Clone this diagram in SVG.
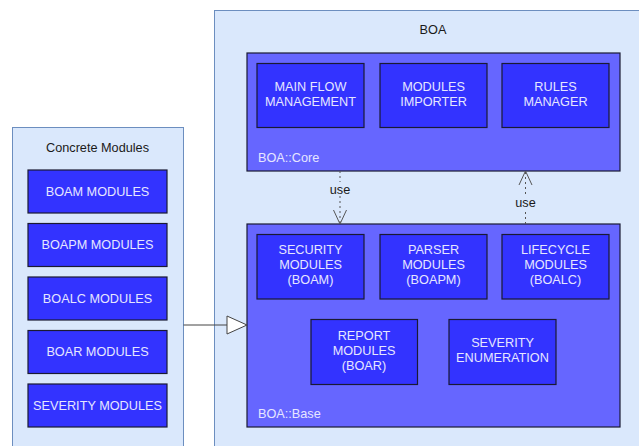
<svg xmlns="http://www.w3.org/2000/svg" width="639" height="446" viewBox="0 0 639 446">
<style>
.cont{fill:#dae8fc;stroke:#6c8ebf;stroke-width:1}
.pkg{fill:#6666ff;stroke:#1a1a33;stroke-width:1.2}
.box{fill:#3333ff;stroke:#1a1a33;stroke-width:1.2}
text{font-family:"Liberation Sans",Arial,sans-serif;font-size:12.7px;text-anchor:middle}
.w{fill:#e6e6ff}
.d{fill:#1a1a1a}
.lbl{text-anchor:start}
.dot{fill:none;stroke:#555;stroke-width:1;stroke-dasharray:2 3}
</style>
<defs>
<marker id="open" markerWidth="16" markerHeight="16" refX="15" refY="8" orient="auto" markerUnits="userSpaceOnUse">
<path d="M1,1.5 L15,8 L1,14.5" fill="none" stroke="#555" stroke-width="1"/>
</marker>
<marker id="tri" markerWidth="22" markerHeight="20" refX="21" refY="10" orient="auto" markerUnits="userSpaceOnUse">
<path d="M1,1 L21,10 L1,19 Z" fill="#fff" stroke="#444" stroke-width="1"/>
</marker>
</defs>
<rect width="639" height="446" fill="#ffffff"/>

<g id="concrete">
<rect class="cont" x="12.5" y="127.5" width="171" height="330"/>
<text class="d" x="97.5" y="152">Concrete Modules</text>
</g>
<g id="boam"><rect class="box" x="28" y="170" width="139" height="43"/><text class="w" x="97.5" y="195.5">BOAM MODULES</text></g>
<g id="boapm"><rect class="box" x="28" y="223.5" width="139" height="43"/><text class="w" x="97.5" y="249">BOAPM MODULES</text></g>
<g id="boalc"><rect class="box" x="28" y="277" width="139" height="43"/><text class="w" x="97.5" y="302.5">BOALC MODULES</text></g>
<g id="boar"><rect class="box" x="28" y="330.5" width="139" height="43"/><text class="w" x="97.5" y="356">BOAR MODULES</text></g>
<g id="severity-modules"><rect class="box" x="28" y="384" width="139" height="43"/><text class="w" x="97.5" y="409.5">SEVERITY MODULES</text></g>

<g id="boa">
<rect class="cont" x="214.5" y="10.5" width="440" height="450"/>
<text class="d" x="433" y="34">BOA</text>
</g>

<g id="core">
<rect class="pkg" x="247" y="53" width="373" height="118"/>
<text class="w lbl" x="258" y="162">BOA::Core</text>
</g>
<g id="main-flow"><rect class="box" x="257" y="63.5" width="107" height="64"/><text class="w" x="310.5" y="91">MAIN FLOW</text><text class="w" x="310.5" y="105.5">MANAGEMENT</text></g>
<g id="modules-importer"><rect class="box" x="380" y="63.5" width="107" height="64"/><text class="w" x="433.5" y="91">MODULES</text><text class="w" x="433.5" y="105.5">IMPORTER</text></g>
<g id="rules-manager"><rect class="box" x="502" y="63.5" width="107" height="64"/><text class="w" x="555.5" y="91">RULES</text><text class="w" x="555.5" y="105.5">MANAGER</text></g>

<g id="base">
<rect class="pkg" x="247" y="224" width="373" height="203"/>
<text class="w lbl" x="258" y="418">BOA::Base</text>
</g>
<g id="security"><rect class="box" x="257" y="234.5" width="107" height="64.5"/><text class="w" x="310.5" y="254">SECURITY</text><text class="w" x="310.5" y="269">MODULES</text><text class="w" x="310.5" y="284">(BOAM)</text></g>
<g id="parser"><rect class="box" x="380" y="234.5" width="107" height="64.5"/><text class="w" x="433.5" y="254">PARSER</text><text class="w" x="433.5" y="269">MODULES</text><text class="w" x="433.5" y="284">(BOAPM)</text></g>
<g id="lifecycle"><rect class="box" x="502" y="234.5" width="107" height="64.5"/><text class="w" x="555.5" y="254">LIFECYCLE</text><text class="w" x="555.5" y="269">MODULES</text><text class="w" x="555.5" y="284">(BOALC)</text></g>
<g id="report"><rect class="box" x="311" y="319.5" width="106.5" height="65"/><text class="w" x="364" y="339.5">REPORT</text><text class="w" x="364" y="354.5">MODULES</text><text class="w" x="364" y="369.5">(BOAR)</text></g>
<g id="severity-enum"><rect class="box" x="449" y="319.5" width="107" height="65"/><text class="w" x="502.5" y="347">SEVERITY</text><text class="w" x="502.5" y="361.5">ENUMERATION</text></g>

<g id="connectors">
<line x1="183.5" y1="325" x2="247" y2="325" stroke="#444" stroke-width="1" marker-end="url(#tri)"/>
<line class="dot" x1="340" y1="171" x2="340" y2="224" marker-end="url(#open)"/>
<rect x="328" y="182" width="24" height="14" fill="#dae8fc"/>
<text class="d" x="340" y="194">use</text>
<line class="dot" x1="525.5" y1="224" x2="525.5" y2="171" marker-end="url(#open)"/>
<rect x="513" y="195" width="25" height="14" fill="#dae8fc"/>
<text class="d" x="525.5" y="206.5">use</text>
</g>
</svg>
